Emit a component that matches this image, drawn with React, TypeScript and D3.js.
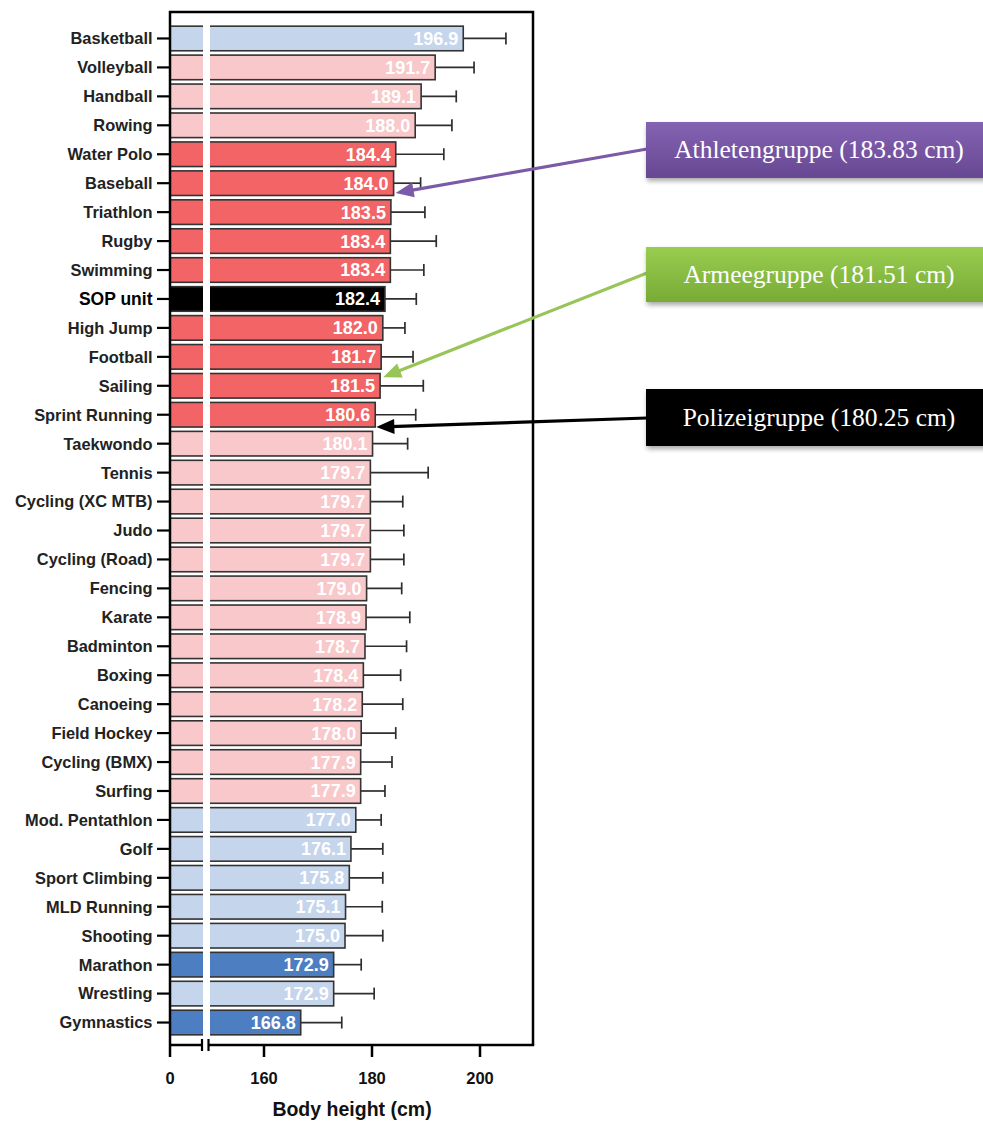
import React from 'react';
import * as d3 from 'd3';

// Sports ordered from tallest to shortest mean body height
const sports = [
  'Basketball', 'Volleyball', 'Handball', 'Rowing', 'Water Polo', 'Baseball',
  'Triathlon', 'Rugby', 'Swimming', 'SOP unit', 'High Jump', 'Football',
  'Sailing', 'Sprint Running', 'Taekwondo', 'Tennis', 'Cycling (XC MTB)',
  'Judo', 'Cycling (Road)', 'Fencing', 'Karate', 'Badminton', 'Boxing',
  'Canoeing', 'Field Hockey', 'Cycling (BMX)', 'Surfing', 'Mod. Pentathlon',
  'Golf', 'Sport Climbing', 'MLD Running', 'Shooting', 'Marathon', 'Wrestling',
  'Gymnastics',
];

const meanHeight = [
  196.9, 191.7, 189.1, 188.0, 184.4, 184.0,
  183.5, 183.4, 183.4, 182.4, 182.0, 181.7,
  181.5, 180.6, 180.1, 179.7, 179.7,
  179.7, 179.7, 179.0, 178.9, 178.7, 178.4,
  178.2, 178.0, 177.9, 177.9, 177.0,
  176.1, 175.8, 175.1, 175.0, 172.9, 172.9,
  166.8,
];

const sdHeight = [
  7.9, 7.2, 6.5, 6.8, 8.9, 5.0,
  6.3, 8.5, 6.2, 5.8, 4.1, 5.9,
  8.0, 7.5, 6.5, 10.7, 6.0,
  6.2, 6.2, 6.5, 8.1, 7.7, 6.9,
  7.5, 6.4, 5.8, 4.5, 4.7,
  5.9, 6.2, 6.8, 7.0, 5.1, 7.5,
  7.6,
];

// Colour class of each bar
const barGroup = [
  'lightBlue', 'pink', 'pink', 'pink', 'red', 'red',
  'red', 'red', 'red', 'sop', 'red', 'red',
  'red', 'red', 'pink', 'pink', 'pink',
  'pink', 'pink', 'pink', 'pink', 'pink', 'pink',
  'pink', 'pink', 'pink', 'pink', 'lightBlue',
  'lightBlue', 'lightBlue', 'lightBlue', 'lightBlue', 'darkBlue', 'lightBlue',
  'darkBlue',
];

const groupFill: Record<string, string> = {
  lightBlue: '#c5d5ec',
  pink: '#f8c8ca',
  red: '#f26465',
  sop: '#000000',
  darkBlue: '#4d7ec2',
};

const xTicks = [0, 160, 180, 200];

// Reference groups shown as callouts
const calloutLabels = ['Athletengruppe (183.83 cm)', 'Armeegruppe (181.51 cm)', 'Polizeigruppe (180.25 cm)'];
const calloutValues = [183.83, 181.51, 180.25];
const calloutRows = ['Baseball', 'Sailing', 'Sprint Running'];
const calloutRowFrac = [0.9, 0.15, 1.0];

const W = 983;
const H = 1122;

const frameL = 170;
const frameR = 533;
const frameT = 12;
const frameB = 1045;

// Broken axis: 0–10 on the short left piece, 150–210 on the main piece
const breakL = 202;
const breakR = 208.5;
const x = d3.scaleLinear().domain([0, 10, 150, 210]).range([frameL, 203, 210, 534]);

const y = d3
  .scaleBand<string>()
  .domain(sports)
  .range([24, 1037])
  .paddingInner(0.15)
  .paddingOuter(0.075);

const sans = '"Liberation Sans", Arial, Helvetica, sans-serif';
const serif = '"Liberation Serif", "Times New Roman", serif';

const calloutBoxes = [
  { top: 122, h: 56, fill: 'url(#gPurple)', line: '#7b5aa8', startY: 149 },
  { top: 247, h: 55, fill: 'url(#gGreen)', line: '#97c557', startY: 273 },
  { top: 389, h: 57, fill: '#000000', line: '#000000', startY: 418 },
];

function arrowHead(x0: number, y0: number, x1: number, y1: number, len: number, half: number) {
  const dx = x1 - x0;
  const dy = y1 - y0;
  const d = Math.hypot(dx, dy);
  const ux = dx / d;
  const uy = dy / d;
  const bx = x1 - ux * len;
  const by = y1 - uy * len;
  const px = -uy;
  const py = ux;
  return `M${x1},${y1}L${bx + px * half},${by + py * half}L${bx - px * half},${by - py * half}Z`;
}

export default function App() {
  const bw = y.bandwidth();
  const boxL = 646;
  const boxW = 345;

  return (
    <svg
      width={W}
      height={H}
      viewBox={`0 0 ${W} ${H}`}
      style={{ position: 'absolute', left: 0, top: 0, background: '#ffffff' }}
    >
      <defs>
        <linearGradient id="gPurple" x1="0" y1="0" x2="0" y2="1">
          <stop offset="0%" stopColor="#8463b3" />
          <stop offset="100%" stopColor="#674892" />
        </linearGradient>
        <linearGradient id="gGreen" x1="0" y1="0" x2="0" y2="1">
          <stop offset="0%" stopColor="#98cd50" />
          <stop offset="100%" stopColor="#78ab34" />
        </linearGradient>
        <filter id="shadow" x="-10%" y="-30%" width="130%" height="180%">
          <feGaussianBlur in="SourceAlpha" stdDeviation="2.5" />
          <feOffset dx="1" dy="3" result="ob" />
          <feComponentTransfer>
            <feFuncA type="linear" slope="0.35" />
          </feComponentTransfer>
          <feMerge>
            <feMergeNode />
            <feMergeNode in="SourceGraphic" />
          </feMerge>
        </filter>
      </defs>

      {/* bars */}
      {sports.map((s, i) => {
        const y0 = y(s)!;
        const x1 = x(meanHeight[i]);
        const xe = x(meanHeight[i] + sdHeight[i]);
        return (
          <g key={s}>
            <line x1={x1} x2={xe} y1={y0 + bw / 2} y2={y0 + bw / 2} stroke="#2e2e2e" strokeWidth={1.7} />
            <line x1={xe} x2={xe} y1={y0 + bw / 2 - 6} y2={y0 + bw / 2 + 6} stroke="#2e2e2e" strokeWidth={1.7} />
            <rect
              x={frameL}
              y={y0}
              width={x1 - frameL}
              height={bw}
              fill={groupFill[barGroup[i]]}
              stroke="#333333"
              strokeWidth={1.6}
            />
            <text
              x={x1 - 5}
              y={y0 + bw / 2}
              dy="0.36em"
              textAnchor="end"
              fontFamily={sans}
              fontWeight="bold"
              fontSize={18}
              fill="#ffffff"
            >
              {meanHeight[i].toFixed(1)}
            </text>
          </g>
        );
      })}

      {/* axis break gap through the bars */}
      <rect x={203} y={frameT + 3} width={7} height={frameB - frameT - 6} fill="#ffffff" />

      {/* frame: top, right and y axis */}
      <path
        d={`M${frameL},${frameB}V${frameT}H${frameR}V${frameB}`}
        fill="none"
        stroke="#000"
        strokeWidth={2.5}
      />

      {/* broken x axis */}
      <line x1={frameL} x2={breakL} y1={frameB} y2={frameB} stroke="#000" strokeWidth={2.5} />
      <line x1={breakR} x2={frameR + 1.2} y1={frameB} y2={frameB} stroke="#000" strokeWidth={2.5} />
      <line x1={breakL} x2={breakL} y1={frameB - 6} y2={frameB + 6} stroke="#000" strokeWidth={2.2} />
      <line x1={breakR} x2={breakR} y1={frameB - 6} y2={frameB + 6} stroke="#000" strokeWidth={2.2} />
      {xTicks.map((t) => (
        <g key={t}>
          <line x1={x(t)} x2={x(t)} y1={frameB} y2={frameB + 12} stroke="#000" strokeWidth={2.5} />
          <text
            x={x(t)}
            y={1084}
            textAnchor="middle"
            fontFamily={sans}
            fontWeight="bold"
            fontSize={16.5}
            fill="#111"
          >
            {t}
          </text>
        </g>
      ))}
      <text
        x={352}
        y={1116}
        textAnchor="middle"
        fontFamily={sans}
        fontWeight="bold"
        fontSize={19.5}
        fill="#111"
      >
        Body height (cm)
      </text>

      {/* y axis ticks and category labels */}
      {sports.map((s) => {
        const cy = y(s)! + bw / 2;
        const isSop = s === 'SOP unit';
        return (
          <g key={`lab-${s}`}>
            <line x1={157} x2={frameL} y1={cy} y2={cy} stroke="#000" strokeWidth={2.2} />
            <text
              x={152.5}
              y={cy}
              dy="0.36em"
              textAnchor="end"
              fontFamily={sans}
              fontWeight={isSop ? 900 : 'bold'}
              fontSize={isSop ? 17.5 : 16.4}
              fill={isSop ? '#000' : '#222'}
            >
              {s}
            </text>
          </g>
        );
      })}

      {/* callouts */}
      {calloutLabels.map((lab, i) => {
        const b = calloutBoxes[i];
        const tipX = x(calloutValues[i]) + 3;
        const tipY = y(calloutRows[i])! + bw * calloutRowFrac[i];
        const sx = boxL + 1;
        const sy = b.startY;
        const dx = tipX - sx;
        const dy = tipY - sy;
        const d = Math.hypot(dx, dy);
        const lineEndX = tipX - (dx / d) * 14;
        const lineEndY = tipY - (dy / d) * 14;
        return (
          <g key={lab}>
            <line x1={sx} y1={sy} x2={lineEndX} y2={lineEndY} stroke={b.line} strokeWidth={3.2} />
            <path d={arrowHead(sx, sy, tipX, tipY, 18, 7.5)} fill={b.line} />
            <rect x={boxL} y={b.top} width={boxW} height={b.h} fill={b.fill} filter="url(#shadow)" />
            <text
              x={819}
              y={b.top + b.h / 2}
              dy="0.33em"
              textAnchor="middle"
              fontFamily={serif}
              fontSize={25.5}
              fill="#ffffff"
            >
              {lab}
            </text>
          </g>
        );
      })}
    </svg>
  );
}
